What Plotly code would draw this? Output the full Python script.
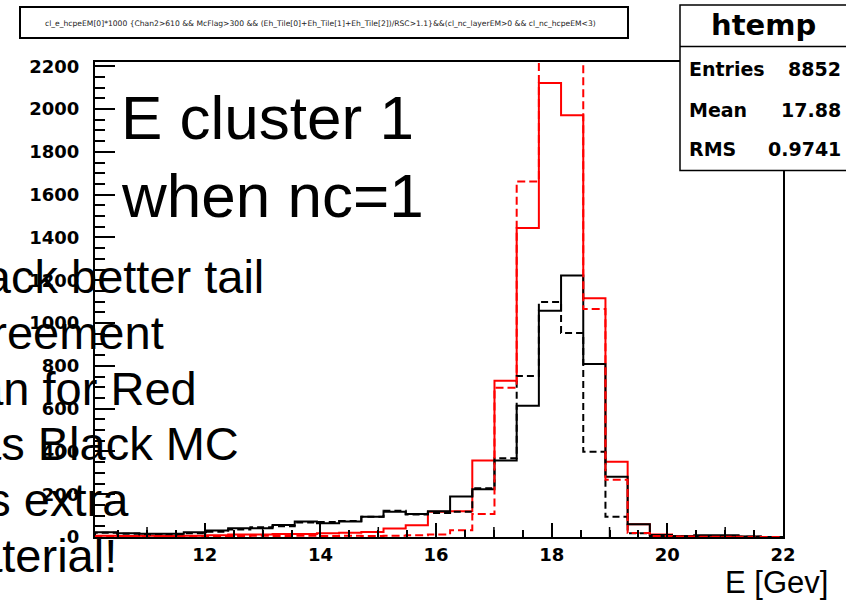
import numpy as np
import plotly.graph_objects as go

# Histogram binning (31 equal bins across the drawn axis range)
X_MIN, X_MAX, N_BINS = 10.1, 22.0, 31
Y_MAX = 2220

# Bin contents, low to high energy
red_solid = [6, 5, 6, 5, 6, 8, 12, 12, 14, 14, 18, 20, 23, 40, 55, 118, 120,
             357, 730, 1444, 2122, 1971, 1116, 352, 60, 12, 3, 2, 1, 1, 0]
red_dashed = [4, 3, 4, 3, 4, 5, 5, 6, 5, 6, 5, 6, 5, 6, 8, 12, 32,
              108, 698, 1662, 2480, 2380, 1066, 267, 19, 5, 2, 1, 1, 0, 0]
black_solid = [22, 18, 15, 15, 22, 30, 41, 41, 56, 72, 64, 72, 95, 118, 108, 120, 189,
               223, 357, 614, 1057, 1222, 809, 282, 60, 9, 3, 8, 8, 2, 0]
black_dashed = [20, 15, 12, 10, 18, 25, 35, 45, 50, 68, 70, 75, 95, 123, 105, 112, 118,
                228, 368, 753, 1098, 953, 399, 95, 18, 5, 3, 2, 2, 1, 0]

stats_labels = ["Entries", "Mean", "RMS"]
stats_values = ["8852", "17.88", "0.9741"]
hist_name = "htemp"
cut_title = ("cl_e_hcpeEM[0]*1000 {Chan2>610 && McFlag>300 && (Eh_Tile[0]+Eh_Tile[1]+"
             "Eh_Tile[2])/RSC>1.1}&&(cl_nc_layerEM>0 && cl_nc_hcpeEM<3)")
heading_lines = ["E cluster 1", "when nc=1"]
note_lines = ["Black better tail", "agreement", "than for Red",
              "as Black MC", "has extra", "material!"]
x_title = "E [Gev]"

W, H = 846, 601
L, R, T, B = 95, 783, 62, 537  # frame edges in pixels


def xp(px):
    return (px - L) / (R - L)


def yp(py):
    return (B - py) / (B - T)


edges = np.linspace(X_MIN, X_MAX, N_BINS + 1)


def step_trace(vals, color, dash):
    xs = [edges[0]] + list(edges[:-1]) + [edges[-1]]
    ys = [0] + list(vals) + [0]
    return go.Scatter(x=xs, y=ys, mode="lines", line_shape="hv",
                      line=dict(color=color, width=2, dash=dash),
                      hoverinfo="skip", showlegend=False)


fig = go.Figure()
fig.add_trace(step_trace(red_solid, "#ff0000", "solid"))
fig.add_trace(step_trace(black_solid, "#000000", "solid"))
fig.add_trace(step_trace(black_dashed, "#000000", "7px,4px"))
fig.add_trace(step_trace(red_dashed, "#ff0000", "8px,4px"))

tick_font = dict(family="DejaVu Sans", size=18, color="black", weight="bold")

fig.update_layout(
    width=W, height=H,
    margin=dict(l=L, r=W - R, t=T, b=H - B, pad=0),
    paper_bgcolor="white", plot_bgcolor="white",
    xaxis=dict(range=[X_MIN, X_MAX], tickmode="linear", tick0=0, dtick=2,
               ticks="inside", ticklen=14, tickwidth=1.5, tickcolor="black",
               showline=True, linecolor="black", linewidth=2, mirror=True,
               showgrid=False, zeroline=False, tickfont=tick_font,
               ticklabelstandoff=0,
               minor=dict(ticks="inside", dtick=0.5, ticklen=7, tickwidth=1.5,
                          tickcolor="black", showgrid=False)),
    yaxis=dict(range=[0, Y_MAX], tickmode="linear", tick0=0, dtick=200,
               ticks="inside", ticklen=20, tickwidth=1.5, tickcolor="black",
               showline=True, linecolor="black", linewidth=2, mirror=True,
               showgrid=False, zeroline=False, tickfont=tick_font,
               ticklabelstandoff=10,
               minor=dict(ticks="inside", dtick=50, ticklen=10, tickwidth=1.5,
                          tickcolor="black", showgrid=False)),
)

shapes = []
# intermediate ticks at odd integers
for v in range(11, 22, 2):
    shapes.append(dict(type="line", xref="x", yref="paper", x0=v, x1=v,
                       y0=0, y1=10 / (B - T), line=dict(color="black", width=1.5)))
# title box
shapes.append(dict(type="rect", xref="paper", yref="paper",
                   x0=xp(20), x1=xp(628), y0=yp(38), y1=yp(7),
                   line=dict(color="black", width=2), fillcolor="white", layer="above"))
# statistics box
shapes.append(dict(type="rect", xref="paper", yref="paper",
                   x0=xp(680), x1=xp(852), y0=yp(170.5), y1=yp(5),
                   line=dict(color="black", width=1.5), fillcolor="white", layer="above"))
shapes.append(dict(type="line", xref="paper", yref="paper",
                   x0=xp(680), x1=xp(852), y0=yp(46.5), y1=yp(46.5),
                   line=dict(color="black", width=1.5), layer="above"))
fig.update_layout(shapes=shapes)

ann = []


def text(s, px, py, size, family="Liberation Sans", xanchor="left", weight="normal", color="black"):
    ann.append(dict(text=s, xref="paper", yref="paper", x=xp(px), y=yp(py),
                    xanchor=xanchor, yanchor="middle", showarrow=False,
                    font=dict(family=family, size=size, color=color, weight=weight)))


text(cut_title, 320, 23, 7.6, family="DejaVu Sans", xanchor="center", color="#222222")
text(hist_name, 763, 25, 29, family="DejaVu Sans", xanchor="center", weight="bold")
for lab, val, cy in zip(stats_labels, stats_values, [69, 110, 149]):
    text(lab, 687, cy, 19, family="DejaVu Sans", weight="bold")
    text(val, 843, cy, 19, family="DejaVu Sans", xanchor="right", weight="bold")

for s, cy in zip(heading_lines, [117, 195]):
    text(s, 119, cy, 62)

note_right = [266, 166, 199, 241, 131, 119]
note_center = [276, 332, 388, 443, 499, 555]
for s, rx, cy in zip(note_lines, note_right, note_center):
    text(s, rx, cy, 47, xanchor="right")

text(x_title, 830, 582, 31, xanchor="right")

fig.update_layout(annotations=ann)
fig.write_html("out.html")
